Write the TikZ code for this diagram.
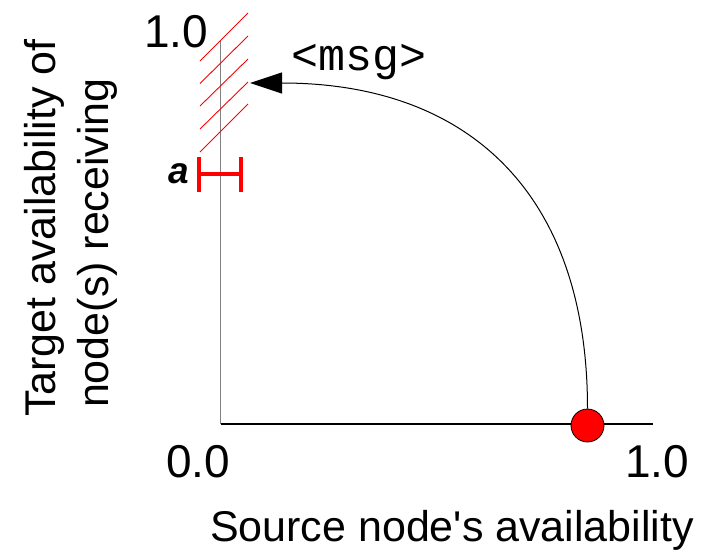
\documentclass[tikz,border=0pt]{standalone}
\usepackage{fontspec}
\setmainfont{Liberation Sans}
\newfontfamily\msgfont{Liberation Mono}
\usetikzlibrary{arrows.meta}
\tikzset{
  axislabel/.style={font=\fontsize{43}{50}\selectfont, inner sep=0pt, anchor=base},
  ticklabel/.style={font=\fontsize{46}{52}\selectfont, inner sep=0pt, anchor=base},
  hatchline/.style={red, line width=0.9pt},
  rangebar/.style={red, line width=3.6pt},
  flow/.style={black, line width=1pt, -{Triangle[length=32pt,width=21pt]}},
  srcdot/.style={circle, fill=red, draw=black, line width=0.8pt, minimum size=33pt, inner sep=0pt},
  vaxis/.style={gray, line width=1.4pt},
  haxis/.style={black, line width=1.2pt}
}
\begin{document}
\begin{tikzpicture}[x=1pt, y=-1pt]
\useasboundingbox (0,0) rectangle (709,552);
% axes
\coordinate (ytop) at (220.5,40);
\coordinate (origin) at (220.5,424);
\coordinate (xend) at (652.5,424);
\draw[vaxis] (ytop) -- (origin);
\draw[haxis] (origin) -- (xend);
% tick labels
\node[ticklabel] (ytick) at (176,47) {1.0};
\node[ticklabel] (x0) at (198,477) {0.0};
\node[ticklabel] (x1) at (657,477) {1.0};
% axis titles
\node[axislabel] (xtitle) at (452,541) {Source node\textquotesingle s availability};
\node[axislabel, rotate=90] (ytitle1) at (55,228) {Target availability of};
\node[axislabel, rotate=90] (ytitle2) at (108,243) {node(s) receiving};
% hatched target region
\node[inner sep=0pt, minimum width=48pt, minimum height=139pt] (tgt) at (224,82.5) {};
\foreach \s/\e in {61/13, 83.5/36, 106/59, 129/82, 152/104}{
  \draw[hatchline] (200,\s) -- (248,\e);
}
% range bar "a"
\coordinate (barL) at (199,174);
\coordinate (barR) at (241,174);
\draw[rangebar] (barL) -- (barR);
\draw[rangebar] (199,157) -- (199,192);
\draw[rangebar] (241,157) -- (241,192);
\node[font=\fontsize{37}{40}\selectfont\bfseries\itshape, inner sep=0pt, anchor=base] (alabel) at (179,183.3) {a};
% source dot and message arrow
\node[srcdot] (src) at (587.5,425.5) {};
\coordinate (tip) at (250,83);
\draw[flow] (src.north) .. controls (587.5,195) and (470,83) .. (tip);
\node[font=\msgfont\fontsize{45}{50}\selectfont, inner sep=0pt, anchor=base] (msg) at (359.5,70.7) {<msg>};
\end{tikzpicture}
\end{document}
